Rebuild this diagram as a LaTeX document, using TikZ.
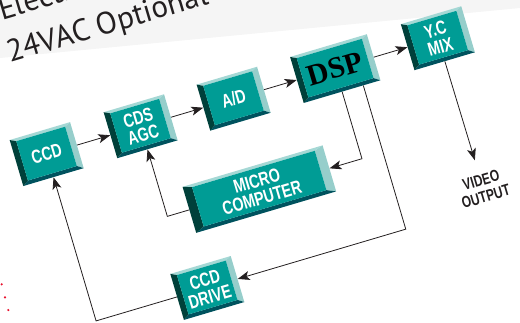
\documentclass[tikz,border=0pt]{standalone}
\usepackage{fontspec}
\usetikzlibrary{arrows.meta,calc}
\newfontfamily\blkfont[FakeStretch=0.75]{Liberation Sans}
\newfontfamily\dspfont{Liberation Serif}
\newfontfamily\topfont{PT Sans}
\definecolor{face}{RGB}{0,156,149}
\definecolor{bevlight}{RGB}{165,216,213}
\definecolor{bevside}{RGB}{150,206,203}
\definecolor{bevdark}{RGB}{0,64,58}
\definecolor{bevlow}{RGB}{0,82,94}
\definecolor{ink}{RGB}{35,31,32}
\definecolor{dotred}{RGB}{232,17,45}
\tikzset{
  arr/.style={draw=ink, line width=0.8pt, -{Stealth[length=12pt,width=9pt,inset=3pt]}},
  blk/.style={inner sep=0pt, minimum height=48pt, align=center, text=white,
    font=\blkfont\bfseries\fontsize{19}{18}\selectfont},
  outtext/.style={inner sep=0pt, align=center, text=ink,
    font=\blkfont\bfseries\fontsize{16}{17}\selectfont},
  hdr/.style={anchor=base west, inner sep=0pt, text=ink,
    font=\topfont\fontsize{31}{33}\selectfont},
}
% bevelled box: [side bevel]{name}{u}{v}{width}{text}
\newcommand{\blk}[6][6]{%
  \begin{scope}[shift={(#3,#4)}]
    \pgfmathsetmacro\blkhw{#5/2}
    \fill[bevlight] (-\blkhw,24) -- (\blkhw,24) -- (\blkhw-#1,21) -- (-\blkhw+#1,21) -- cycle;
    \fill[bevside] (\blkhw,24) -- (\blkhw,-24) -- (\blkhw-#1,-20) -- (\blkhw-#1,21) -- cycle;
    \fill[bevlow] (-\blkhw,-24) -- (\blkhw,-24) -- (\blkhw-#1,-20) -- (-\blkhw+#1,-20) -- cycle;
    \fill[bevdark] (-\blkhw,24) -- (-\blkhw,-24) -- (-\blkhw+#1,-20) -- (-\blkhw+#1,21) -- cycle;
    \fill[face] (-\blkhw+#1,21) rectangle (\blkhw-#1,-20);
    \node[blk, minimum width=#5pt] (#2) at (0,0) {#6};
  \end{scope}}

\begin{document}
\begin{tikzpicture}[x=1pt, y=1pt]
    \useasboundingbox (0,0) rectangle (520,-322);
    \clip (0,0) rectangle (520,-322);
    \fill[black!4] (0,0) -- (520,0) -- (520,-8) -- (0,-58) -- cycle;
    \fill[dotred] (1.7,-284.3) circle (1.2) (5,-297.3) circle (1.2) (8.3,-310) circle (1.2);
    \begin{scope}[rotate=16.5, transform shape]
        % heading
        \node[hdr] (hdrone) at (-4,-20) {Electr};
        \node[hdr] (hdrtwo) at (-8,-63) {24VAC Optional};
        % blocks
        \blk{ccd}{1}{-161}{63}{CCD}
        \blk{cds}{99}{-161}{63}{CDS\\AGC}
        \blk{ad}{196}{-161}{63}{A/D}
        \blk{dsp}{302}{-161}{80}{\color{black}\dspfont\bfseries\fontsize{30}{30}\selectfont DSP}
        \blk{ycmix}{409}{-161}{63}{Y.C\\MIX}
        \blk[9]{micro}{195}{-255}{146}{MICRO\\COMPUTER}
        \blk{drive}{117}{-335}{63}{CCD\\DRIVE}
        \node[outtext] (vout) at (410,-318) {VIDEO\\OUTPUT};
        % corners
        \coordinate (dspout) at ($(dsp.south)!0.55!(dsp.south east)$);
        \coordinate (cmicro) at (302,-255);
        \coordinate (cdrive) at (324,-335);
        \coordinate (cccd) at (1,-335);
        \coordinate (ccds) at (99,-255);
        % signal path
        \draw[arr] (ccd) -- (cds);
        \draw[arr] (cds) -- (ad);
        \draw[arr] (ad) -- (dsp);
        \draw[arr] (dsp) -- (ycmix);
        \draw[arr, shorten >=15pt] (ycmix) -- (vout);
        \draw[arr] (dsp.south) -- (cmicro) -- (micro.east);
        \draw[arr] (dspout) -- (cdrive) -- (drive.east);
        \draw[arr] (micro.west) -- (ccds) -- (cds.south);
        \draw[arr] (drive.west) -- (cccd) -- (ccd.south);
    \end{scope}
\end{tikzpicture}
\end{document}
